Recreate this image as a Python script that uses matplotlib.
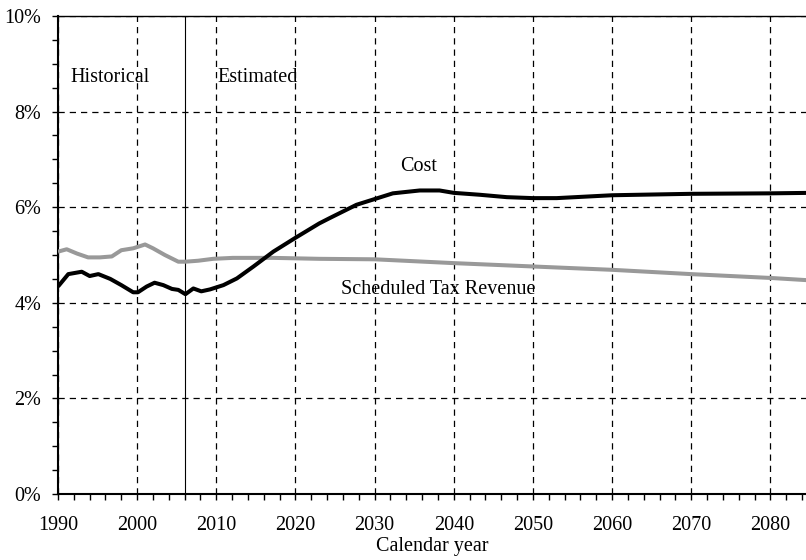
import matplotlib
matplotlib.use("Agg")
import matplotlib.pyplot as plt
from matplotlib.ticker import MultipleLocator, FuncFormatter

cost_years = [1990, 1991.3, 1993.0, 1994.0, 1995.1, 1996.6, 1998.0, 1999.5, 2000.1, 2001.2,
              2002.2, 2003.3, 2004.4, 2005.2, 2006.1, 2007.1, 2008.1, 2009.2, 2010.9, 2012.6,
              2014.7, 2017.2, 2020.0, 2023.0, 2024.3, 2027.7, 2030.0, 2032.3, 2035.7, 2038.2,
              2040.0, 2043.3, 2046.7, 2050.0, 2053.0, 2060.0, 2070.0, 2080.0, 2085.0]
cost_values = [4.34, 4.60, 4.65, 4.56, 4.60, 4.50, 4.37, 4.22, 4.22, 4.34,
               4.42, 4.37, 4.29, 4.27, 4.18, 4.30, 4.24, 4.28, 4.37, 4.51,
               4.76, 5.07, 5.36, 5.66, 5.77, 6.05, 6.17, 6.29, 6.35, 6.35,
               6.30, 6.26, 6.21, 6.19, 6.19, 6.25, 6.28, 6.29, 6.30]

rev_years = [1990, 1991.1, 1992.4, 1993.8, 1995.3, 1996.8, 1998.0, 1999.5, 2001.0, 2002.0,
             2003.5, 2005.2, 2006.1, 2007.7, 2009.6, 2012.1, 2017.2, 2023.0, 2030.0, 2040.0,
             2050.0, 2060.0, 2070.0, 2080.0, 2085.0]
rev_values = [5.07, 5.12, 5.03, 4.95, 4.95, 4.97, 5.10, 5.14, 5.22, 5.14,
              5.00, 4.86, 4.86, 4.88, 4.92, 4.94, 4.94, 4.92, 4.91, 4.83,
              4.76, 4.69, 4.60, 4.52, 4.47]

x_ticks = [1990, 2000, 2010, 2020, 2030, 2040, 2050, 2060, 2070, 2080]
y_ticks = [0, 2, 4, 6, 8, 10]

FS = 14.5
plt.rcParams['font.family'] = ['Liberation Serif', 'DejaVu Serif']
plt.rcParams['font.size'] = FS

fig = plt.figure(figsize=(8.06, 5.6), dpi=100)
ax = fig.add_axes([58/806, 1 - 494/560, 1 - 58/806, (494 - 16)/560])

ax.plot(rev_years, rev_values, color='#999999', lw=2.9, solid_capstyle='butt',
        solid_joinstyle='round', zorder=3)
ax.plot(cost_years, cost_values, color='black', lw=2.9, solid_capstyle='butt',
        solid_joinstyle='round', zorder=4)

ax.axvline(2006, color='black', lw=0.8, zorder=2)

ax.set_xlim(1990, 2084.5)
ax.set_ylim(0, 10)
ax.set_xticks(x_ticks)
ax.set_yticks(y_ticks)
ax.xaxis.set_minor_locator(MultipleLocator(2))
ax.yaxis.set_minor_locator(MultipleLocator(0.5))
ax.yaxis.set_major_formatter(FuncFormatter(lambda v, p: f"{int(v)}%"))

ax.grid(True, which='major', color='black', lw=0.9, linestyle=(0, (5, 4)))
ax.set_axisbelow(True)

ax.tick_params(axis='x', which='major', direction='out', length=4, width=1, pad=12, labelsize=FS)
ax.tick_params(axis='x', which='minor', direction='out', length=4, width=1)
ax.tick_params(axis='y', which='major', direction='out', length=4, width=1, pad=8, labelsize=FS)
ax.tick_params(axis='y', which='minor', direction='out', length=4, width=1)

ax.spines['right'].set_visible(False)
ax.spines['left'].set_linewidth(1.5)
ax.spines['bottom'].set_linewidth(1.5)
ax.spines['top'].set_linewidth(1.0)

ax.text(1991.6, 8.72, 'Historical', fontsize=FS, va='center', ha='left')
ax.text(2010.1, 8.72, 'Estimated', fontsize=FS, va='center', ha='left')
ax.text(2035.6, 6.85, 'Cost', fontsize=FS, va='center', ha='center')
ax.text(2038.1, 4.27, 'Scheduled Tax Revenue', fontsize=FS, va='center', ha='center')

ax.set_xlabel('Calendar year', fontsize=FS, labelpad=1)

fig.savefig('out.png', dpi=100)
